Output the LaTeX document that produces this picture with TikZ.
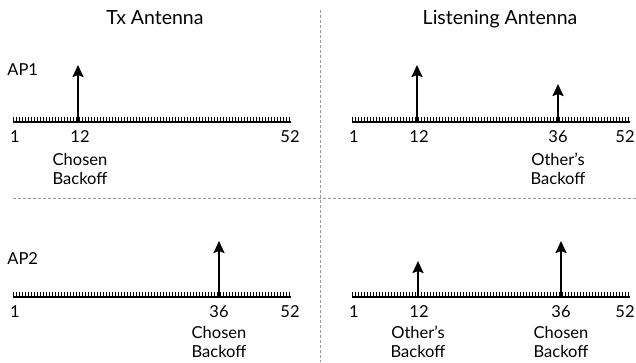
\documentclass[tikz,border=0pt]{standalone}
\usepackage{fontspec}
\setmainfont{Lato}
\usetikzlibrary{arrows.meta}
\begin{document}
\begin{tikzpicture}[x=1pt,y=-1pt,style=thick]
	\tikzset{axisline/.style={line width=2.4pt},
		tickline/.style={line width=0.9pt},
		backoff/.style={line width=2.2pt,-{Stealth[length=12pt,width=11pt,inset=2pt]}},
		divider/.style={black!40,line width=0.6pt,dash pattern=on 3pt off 2pt},
		lbl/.style={font=\fontsize{16.5}{20}\selectfont,inner sep=0pt,anchor=base},
		ttl/.style={font=\fontsize{19.5}{23}\selectfont,inner sep=0pt,anchor=base}}
	\newcommand{\timeline}{%
		\draw[axisline] (13,122) -- (291,122);
		\foreach \t in {0,...,92} \draw[tickline] (13+3*\t,117) -- (13+3*\t,122);
		\node[lbl] (first) at (15,142) {1};
	}
	\useasboundingbox (0,0) rectangle (636,362);
	% dividers
	\draw[divider] (320,10) -- (320,362);
	\draw[divider] (13,198) -- (636,198);
	% titles
	\node[ttl] (txtitle) at (155,24) {Tx Antenna};
	\node[ttl] (lstitle) at (500,24) {Listening Antenna};
	\node[lbl,anchor=base west] (ap1) at (7,75) {AP1};
	\node[lbl,anchor=base west] (ap2) at (7,264) {AP2};
	% AP1, Tx antenna
	\begin{scope}[name prefix=atx-]
		\timeline
		\node[lbl] (last) at (290,142) {52};
		\node[lbl] (n12) at (80,142) {12};
		\coordinate (b12) at (78,122);
		\coordinate (t12) at (78,65);
		\draw[backoff] (b12) -- (t12);
		\node[lbl] (w1) at (80,165) {Chosen};
		\node[lbl] (w2) at (80,184) {Backoff};
	\end{scope}
	% AP1, listening antenna
	\begin{scope}[shift={(339,0)},name prefix=als-]
		\timeline
		\node[lbl,anchor=base east] (last) at (296,142) {52};
		\node[lbl] (n12) at (80,142) {12};
		\node[lbl] (n36) at (219,142) {36};
		\coordinate (b12) at (78,122);
		\coordinate (t12) at (78,65);
		\coordinate (b36) at (219,122);
		\coordinate (t36) at (219,84);
		\draw[backoff] (b12) -- (t12);
		\draw[backoff] (b36) -- (t36);
		\node[lbl] (w1) at (219,165) {Other’s};
		\node[lbl] (w2) at (219,184) {Backoff};
	\end{scope}
	% AP2, Tx antenna
	\begin{scope}[shift={(0,175)},name prefix=btx-]
		\timeline
		\node[lbl] (last) at (290,142) {52};
		\node[lbl] (n36) at (219,142) {36};
		\coordinate (b36) at (219,122);
		\coordinate (t36) at (219,66);
		\draw[backoff] (b36) -- (t36);
		\node[lbl] (w1) at (219,163) {Chosen};
		\node[lbl] (w2) at (219,182) {Backoff};
	\end{scope}
	% AP2, listening antenna
	\begin{scope}[shift={(339,175)},name prefix=bls-]
		\timeline
		\node[lbl,anchor=base east] (last) at (296,142) {52};
		\node[lbl] (n12) at (80,142) {12};
		\node[lbl] (n36) at (222,142) {36};
		\coordinate (b12) at (79,122);
		\coordinate (t12) at (79,86);
		\coordinate (b36) at (222,122);
		\coordinate (t36) at (222,66);
		\draw[backoff] (b12) -- (t12);
		\draw[backoff] (b36) -- (t36);
		\node[lbl] (w1) at (79,163) {Other’s};
		\node[lbl] (w2) at (79,182) {Backoff};
		\node[lbl] (w3) at (222,163) {Chosen};
		\node[lbl] (w4) at (222,182) {Backoff};
	\end{scope}
\end{tikzpicture}
\end{document}
